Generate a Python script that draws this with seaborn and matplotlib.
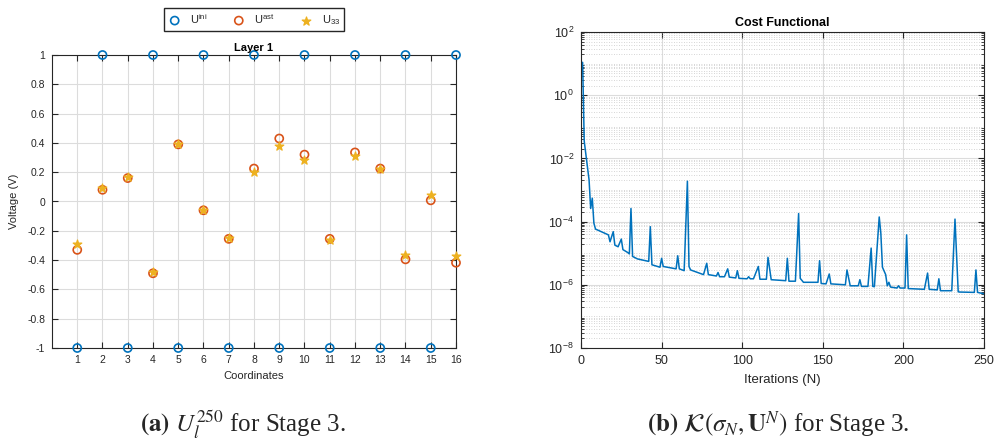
import numpy as np
import pandas as pd
import matplotlib
matplotlib.use("Agg")
import matplotlib.pyplot as plt
from matplotlib.ticker import LogLocator, NullFormatter, FixedLocator
import seaborn as sns

# ---------------- data ----------------
coords = list(range(1, 17))
u_ini = [-1, 1, -1, 1, -1, 1, -1, 1, -1, 1, -1, 1, -1, 1, -1, 1]
u_ast = [-0.33, 0.08, 0.16, -0.49, 0.39, -0.06, -0.255, 0.225,
         0.43, 0.32, -0.255, 0.335, 0.225, -0.395, 0.008, -0.418]
u_33 = [-0.288, 0.09, 0.165, -0.48, 0.395, -0.055, -0.25, 0.20,
        0.38, 0.285, -0.265, 0.31, 0.22, -0.368, 0.041, -0.372]

iters = [1, 2, 5, 6, 7, 8, 9, 17, 18, 20, 21, 23, 25, 26, 29, 30, 31, 32, 35,
         42, 43, 44, 49, 50, 51, 59, 60, 61, 64, 66, 67, 68, 76, 78, 79, 84,
         85, 86, 89, 91, 92, 96, 97, 98, 103, 104, 105, 107, 110, 111, 115,
         116, 118, 127, 128, 129, 133, 135, 136, 138, 147, 148, 149, 152, 154,
         155, 164, 165, 167, 172, 173, 174, 178, 180, 181, 182, 185, 186, 187,
         189, 190, 191, 192, 196, 197, 198, 201, 202, 203, 213, 215, 216, 221,
         222, 223, 230, 232, 234, 235, 244, 245, 246, 250]
cost = [1.1e1, 3.5e-2, 2.1e-3, 2.6e-4, 5.5e-4, 8.9e-5, 5.8e-5, 3.8e-5, 2.3e-5,
        4.8e-5, 1.8e-5, 1.6e-5, 2.8e-5, 1.3e-5, 1.05e-5, 9.5e-6, 2.6e-4,
        7.9e-6, 6.6e-6, 5.5e-6, 6.9e-5, 4.3e-6, 3.6e-6, 6.9e-6, 3.8e-6,
        3.2e-6, 8.3e-6, 3.2e-6, 2.8e-6, 1.9e-3, 3.8e-6, 2.95e-6, 2.1e-6,
        4.8e-6, 2.1e-6, 1.9e-6, 2.45e-6, 1.8e-6, 1.8e-6, 3.2e-6, 1.75e-6,
        1.65e-6, 2.8e-6, 1.6e-6, 1.55e-6, 1.8e-6, 1.55e-6, 1.55e-6, 3.8e-6,
        1.5e-6, 1.5e-6, 7.4e-6, 1.45e-6, 1.35e-6, 6.9e-6, 1.3e-6, 1.3e-6,
        1.8e-4, 1.6e-6, 1.2e-6, 1.2e-6, 5.8e-6, 1.1e-6, 1.07e-6, 2.2e-6,
        1.07e-6, 1.0e-6, 2.95e-6, 9.3e-7, 9.3e-7, 1.45e-6, 8.9e-7, 8.9e-7,
        1.45e-5, 8.9e-7, 8.7e-7, 1.4e-4, 4.3e-5, 3.6e-6, 2.1e-6, 9.3e-7,
        1.2e-6, 8.5e-7, 7.9e-7, 9.3e-7, 7.9e-7, 7.9e-7, 3.8e-5, 7.6e-7,
        7.2e-7, 2.35e-6, 7.2e-7, 6.9e-7, 1.55e-6, 6.5e-7, 6.5e-7, 1.2e-4,
        6.0e-7, 5.9e-7, 5.75e-7, 2.95e-6, 5.75e-7, 5.2e-7]

left_yticks = [-1, -0.8, -0.6, -0.4, -0.2, 0, 0.2, 0.4, 0.6, 0.8, 1]
left_yticklabels = ["-1", "-0.8", "-0.6", "-0.4", "-0.2", "0", "0.2", "0.4", "0.6", "0.8", "1"]
right_xticks = [0, 50, 100, 150, 200, 250]

# ---------------- style ----------------
sns.set_style("ticks")
plt.rcParams["font.family"] = ["Liberation Sans", "DejaVu Sans"]
plt.rcParams["mathtext.fontset"] = "custom"
plt.rcParams["mathtext.rm"] = "Liberation Sans"
plt.rcParams["mathtext.it"] = "Liberation Sans:italic"
plt.rcParams["mathtext.bf"] = "Liberation Sans:bold"
plt.rcParams["axes.edgecolor"] = "#262626"
plt.rcParams["axes.linewidth"] = 0.8

C_BLUE = "#0072BD"
C_RED = "#D95319"
C_YEL = "#EDB120"
GRID = "#dcdcdc"
TXT = "#262626"

fig = plt.figure(figsize=(9.95, 4.44), dpi=100)
W, H = 995, 444

def px_axes(x0, y0, x1, y1):
    return fig.add_axes([x0 / W, 1 - y1 / H, (x1 - x0) / W, (y1 - y0) / H])

# ---------------- left plot ----------------
ax1 = px_axes(52, 55, 456, 348)
df_l = pd.DataFrame({"coord": coords, "ini": u_ini, "ast": u_ast, "u33": u_33})
sns.scatterplot(data=df_l, x="coord", y="ini", ax=ax1, marker="o", s=34,
                facecolors="none", edgecolor=C_BLUE, linewidth=1.2,
                label="U$^{\\mathrm{ini}}$", clip_on=False, zorder=3)
sns.scatterplot(data=df_l, x="coord", y="ast", ax=ax1, marker="o", s=34,
                facecolors="none", edgecolor=C_RED, linewidth=1.2,
                label="U$^{\\mathrm{ast}}$", clip_on=False, zorder=4)
sns.scatterplot(data=df_l, x="coord", y="u33", ax=ax1, marker="*", s=42,
                color=C_YEL, edgecolor=C_YEL, linewidth=0.9,
                label="U$_{33}$", clip_on=False, zorder=5)
ax1.set_xlim(0, 16)
ax1.set_ylim(-1, 1)
ax1.set_xticks(coords)
ax1.set_xticklabels([str(c) for c in coords])
ax1.set_yticks(left_yticks)
ax1.set_yticklabels(left_yticklabels)
ax1.grid(True, color=GRID, linewidth=0.8)
ax1.set_axisbelow(True)
ax1.tick_params(direction="in", top=True, right=True, length=4, width=0.8,
                labelsize=7.5, colors=TXT, pad=5)
ax1.set_xlabel("Coordinates", fontsize=8, color=TXT, labelpad=4)
ax1.set_ylabel("Voltage (V)", fontsize=8, color=TXT, labelpad=6)
ax1.set_title("Layer 1", fontsize=8, fontweight="bold", color="black", pad=3)
handles, labels = ax1.get_legend_handles_labels()
ax1.get_legend().remove()
for sp in ax1.spines.values():
    sp.set_visible(True)
fig.legend(handles, labels, loc="center", bbox_to_anchor=(254 / W, 1 - 19.5 / H),
           ncol=3, fontsize=8, frameon=True, fancybox=False, framealpha=1,
           edgecolor=TXT, handlelength=1.2, handletextpad=0.8, columnspacing=2.2,
           borderpad=0.35)

# ---------------- right plot ----------------
ax2 = px_axes(581, 32, 984, 348)
df_r = pd.DataFrame({"N": iters, "cost": cost})
sns.lineplot(data=df_r, x="N", y="cost", ax=ax2, color=C_BLUE, linewidth=1.1)
ax2.set_yscale("log")
ax2.set_xlim(0, 250)
ax2.set_ylim(1e-8, 1e2)
ax2.set_xticks(right_xticks)
ax2.yaxis.set_major_locator(FixedLocator([1e-8, 1e-6, 1e-4, 1e-2, 1e0, 1e2]))
ax2.yaxis.set_minor_locator(LogLocator(base=10, subs=np.arange(2, 10), numticks=30))
ax2.yaxis.set_minor_formatter(NullFormatter())
ax2.grid(True, which="major", color=GRID, linewidth=0.8)
ax2.grid(True, which="minor", axis="y", color="#c8c8c8", linewidth=0.6, linestyle=(0, (1, 2)))
for k in [-7, -5, -3, -1, 1]:
    ax2.axhline(10.0 ** k, color="#c8c8c8", linewidth=0.6, linestyle=(0, (1, 2)), zorder=0)
ax2.set_axisbelow(True)
ax2.tick_params(which="major", direction="in", top=True, right=True, length=4,
                width=0.8, labelsize=9, colors=TXT, pad=5)
ax2.tick_params(which="minor", direction="in", left=True, right=True, length=2, width=0.6,
                colors=TXT)
ax2.set_xlabel("Iterations (N)", fontsize=9.5, color=TXT, labelpad=5)
ax2.set_ylabel("")
ax2.set_title("Cost Functional", fontsize=9, fontweight="bold", color="black", pad=4)
for sp in ax2.spines.values():
    sp.set_visible(True)

# ---------------- captions ----------------
fig.text(243 / W, 1 - 432 / H, r"$\mathbf{(a)}$ $U_l^{250}$ for Stage 3.",
         ha="center", va="baseline", fontsize=18, family="Liberation Serif",
         math_fontfamily="stix")
fig.text(778 / W, 1 - 432 / H, r"$\mathbf{(b)}$ $\mathcal{K}(\sigma_N, \mathbf{U}^N)$ for Stage 3.",
         ha="center", va="baseline", fontsize=18, family="Liberation Serif",
         math_fontfamily="stix")

fig.savefig("out.png", dpi=100)
